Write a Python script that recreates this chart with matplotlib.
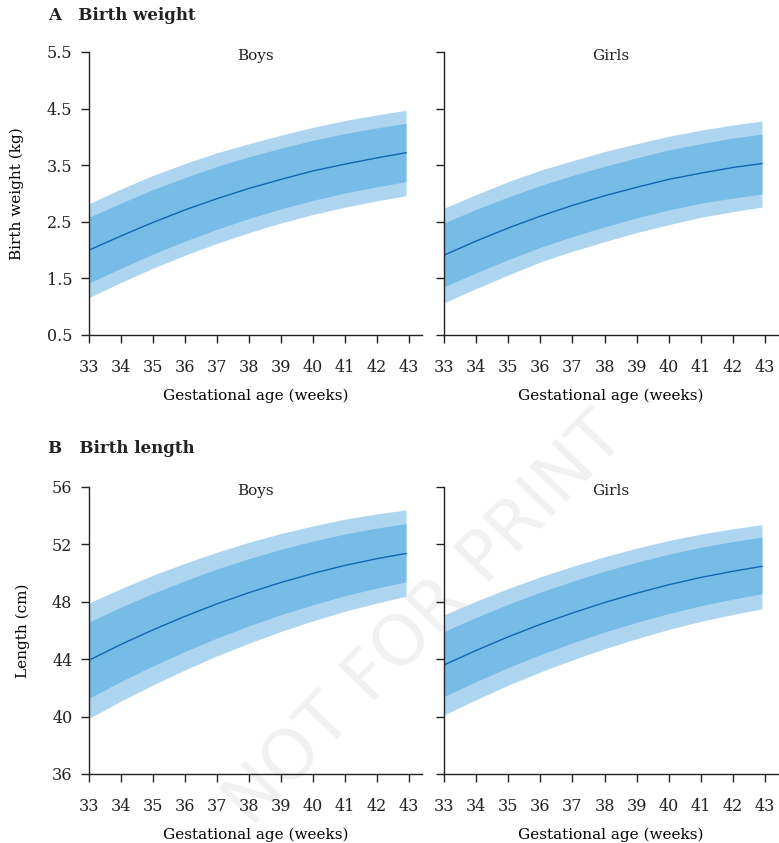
import matplotlib
matplotlib.use("Agg")
import matplotlib.pyplot as plt

# gestational age (weeks); last point is where the bands stop
weeks = [33, 34, 35, 36, 37, 38, 39, 40, 41, 42, 42.9]

# birth weight (kg) -- outer/inner band edges and median
boys_wt_outer_hi = [2.82, 3.08, 3.32, 3.53, 3.72, 3.88, 4.03, 4.17, 4.29, 4.39, 4.47]
boys_wt_inner_hi = [2.58, 2.83, 3.07, 3.28, 3.48, 3.65, 3.80, 3.94, 4.06, 4.16, 4.24]
boys_wt_median = [2.00, 2.25, 2.49, 2.71, 2.91, 3.09, 3.25, 3.40, 3.52, 3.63, 3.72]
boys_wt_inner_lo = [1.42, 1.68, 1.93, 2.16, 2.37, 2.56, 2.73, 2.88, 3.01, 3.12, 3.21]
boys_wt_outer_lo = [1.16, 1.43, 1.68, 1.91, 2.12, 2.31, 2.48, 2.63, 2.76, 2.87, 2.96]

girls_wt_outer_hi = [2.74, 2.98, 3.21, 3.41, 3.58, 3.74, 3.88, 4.01, 4.12, 4.21, 4.28]
girls_wt_inner_hi = [2.48, 2.72, 2.94, 3.14, 3.32, 3.48, 3.63, 3.77, 3.88, 3.98, 4.05]
girls_wt_median = [1.91, 2.16, 2.39, 2.60, 2.79, 2.96, 3.11, 3.25, 3.36, 3.46, 3.53]
girls_wt_inner_lo = [1.35, 1.60, 1.83, 2.05, 2.24, 2.41, 2.57, 2.71, 2.83, 2.92, 2.99]
girls_wt_outer_lo = [1.07, 1.32, 1.56, 1.79, 1.98, 2.15, 2.31, 2.45, 2.58, 2.68, 2.76]

# birth length (cm)
boys_len_outer_hi = [47.92, 48.92, 49.85, 50.69, 51.46, 52.15, 52.76, 53.29, 53.76, 54.13, 54.40]
boys_len_inner_hi = [46.59, 47.63, 48.59, 49.47, 50.29, 51.01, 51.66, 52.23, 52.73, 53.14, 53.45]
boys_len_median = [43.93, 45.03, 46.05, 46.99, 47.86, 48.64, 49.35, 49.98, 50.54, 51.01, 51.37]
boys_len_inner_lo = [41.28, 42.45, 43.54, 44.54, 45.48, 46.33, 47.11, 47.80, 48.43, 48.97, 49.39]
boys_len_outer_lo = [39.88, 41.09, 42.21, 43.26, 44.24, 45.12, 45.94, 46.68, 47.35, 47.92, 48.39]

girls_len_outer_hi = [47.09, 48.04, 48.93, 49.74, 50.47, 51.14, 51.74, 52.27, 52.72, 53.09, 53.37]
girls_len_inner_hi = [45.93, 46.91, 47.83, 48.67, 49.43, 50.13, 50.76, 51.32, 51.80, 52.20, 52.51]
girls_len_median = [43.60, 44.61, 45.56, 46.43, 47.22, 47.95, 48.60, 49.19, 49.70, 50.13, 50.47]
girls_len_inner_lo = [41.40, 42.44, 43.42, 44.32, 45.14, 45.90, 46.57, 47.19, 47.73, 48.19, 48.56]
girls_len_outer_lo = [40.12, 41.18, 42.19, 43.11, 43.95, 44.73, 45.43, 46.08, 46.64, 47.12, 47.51]

x_ticks = list(range(33, 44))
wt_ticks = [0.5, 1.5, 2.5, 3.5, 4.5, 5.5]
len_ticks = [36, 40, 44, 48, 52, 56]

OUTER = '#add5f0'
INNER = '#76bce6'
LINE = '#1166b3'
TEXT = '#222222'

plt.rcParams['font.family'] = 'DejaVu Serif'
plt.rcParams['text.color'] = TEXT

W, H = 779, 843
fig = plt.figure(figsize=(W / 100, H / 100), dpi=100)


def box(l, t, r, b):
    return [l / W, 1 - b / H, (r - l) / W, (b - t) / H]


# faint watermark, drawn behind the panels
fig.text(425 / W, 1 - 620 / H, 'NOT FOR PRINT', family='DejaVu Sans', fontsize=50,
         color='#f1f1f1', rotation=46, ha='center', va='center', zorder=-1)


def panel(rect, title, outer_hi, inner_hi, med, inner_lo, outer_lo, ylim, yticks, ylabel=None):
    ax = fig.add_axes(rect)
    ax.set_facecolor('none')
    ax.fill_between(weeks, outer_lo, outer_hi, color=OUTER, lw=0)
    ax.fill_between(weeks, inner_lo, inner_hi, color=INNER, lw=0)
    ax.plot(weeks, med, color=LINE, lw=1.0)
    ax.set_xlim(33, 43.4)
    ax.set_ylim(*ylim)
    ax.set_xticks(x_ticks)
    ax.set_yticks(yticks)
    for s in ['top', 'right']:
        ax.spines[s].set_visible(False)
    for s in ['left', 'bottom']:
        ax.spines[s].set_color(TEXT)
        ax.spines[s].set_linewidth(1.0)
    ax.tick_params(length=6, width=1.0, color=TEXT, labelsize=11.5, labelcolor=TEXT)
    ax.tick_params(axis='x', pad=11)
    ax.tick_params(axis='y', pad=6)
    if ylabel:
        ax.set_ylabel(ylabel, fontsize=11, labelpad=16)
        ax.set_yticklabels([f'{v:g}' if isinstance(v, int) else f'{v:.1f}' for v in yticks])
    else:
        ax.set_yticklabels([])
    ax.set_xlabel('Gestational age (weeks)', fontsize=11, labelpad=9)
    ax.text(0.5, 0.985, title, transform=ax.transAxes, ha='center', va='center', fontsize=11)
    return ax


panel(box(89, 52, 422, 335), 'Boys', boys_wt_outer_hi, boys_wt_inner_hi, boys_wt_median,
      boys_wt_inner_lo, boys_wt_outer_lo, (0.5, 5.5), wt_ticks, 'Birth weight (kg)')
panel(box(444, 52, 778, 335), 'Girls', girls_wt_outer_hi, girls_wt_inner_hi, girls_wt_median,
      girls_wt_inner_lo, girls_wt_outer_lo, (0.5, 5.5), wt_ticks)
panel(box(89, 487, 422, 774), 'Boys', boys_len_outer_hi, boys_len_inner_hi, boys_len_median,
      boys_len_inner_lo, boys_len_outer_lo, (36, 56), len_ticks, 'Length (cm)')
panel(box(444, 487, 778, 774), 'Girls', girls_len_outer_hi, girls_len_inner_hi, girls_len_median,
      girls_len_inner_lo, girls_len_outer_lo, (36, 56), len_ticks)

fig.text(48 / W, 1 - 15 / H, 'A   Birth weight', fontsize=12, fontweight='bold', va='center')
fig.text(48 / W, 1 - 449 / H, 'B   Birth length', fontsize=12, fontweight='bold', va='center')

fig.savefig('out.png', dpi=100)
